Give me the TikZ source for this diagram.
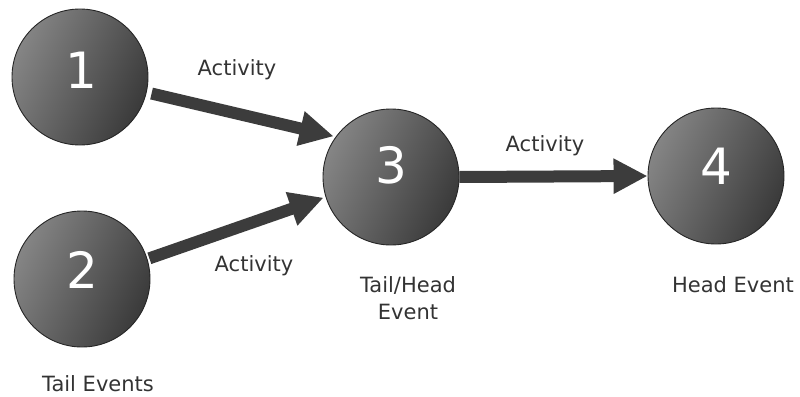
\documentclass[tikz,border=0pt]{standalone}
\usepackage{fontspec}
\setmainfont{DejaVu Sans}
\usetikzlibrary{arrows.meta}
\definecolor{arrowgray}{HTML}{3C3C3C}
\definecolor{balllight}{HTML}{858585}
\definecolor{balldark}{HTML}{3A3A3A}
\definecolor{ballrim}{HTML}{262626}
\definecolor{labelgray}{HTML}{333333}
\begin{document}
\begin{tikzpicture}[x=1pt,y=-1pt,
  event/.style={circle, minimum size=136pt, inner sep=0pt,
    draw=ballrim, line width=0.9pt,
    left color=balllight, right color=balldark, shading angle=65},
  digit/.style={text=white, font=\fontsize{50}{50}\selectfont, inner sep=0pt},
  activity/.style={draw=arrowgray, line width=12pt,
    -{Triangle[length=34pt,width=33pt]}},
  caption/.style={text=labelgray, font=\fontsize{21}{27}\selectfont, align=center, inner sep=0pt}]
  \useasboundingbox (0,0) rectangle (800,396);

  % event circles
  \node[event] (n1) at (80,77) {};
  \node[event] (n2) at (82,279) {};
  \node[event] (n3) at (391,177) {};
  \node[event] (n4) at (716,176) {};

  % event numbers, set a little above the centres
  \node[digit] (d1) at (81,70) {1};
  \node[digit] (d2) at (82,270) {2};
  \node[digit] (d3) at (391,165) {3};
  \node[digit] (d4) at (716,166) {4};

  % activity arrows
  \draw[activity, shorten <=5pt, shorten >=2pt] (n1.-13) -- (n3.144);
  \draw[activity, shorten <=2pt, shorten >=2pt] (n2.17) -- (n3.197);
  \draw[activity] (n3.east) -- (n4.west);

  % labels
  \node[caption] (a1) at (237,70) {Activity};
  \node[caption] (a2) at (254,266) {Activity};
  \node[caption] (a3) at (545,146) {Activity};
  \node[caption] (c3) at (408,298) {Tail/Head\\Event};
  \node[caption] (c4) at (733,285) {Head Event};
  \node[caption] (c12) at (98,384) {Tail Events};
\end{tikzpicture}
\end{document}
